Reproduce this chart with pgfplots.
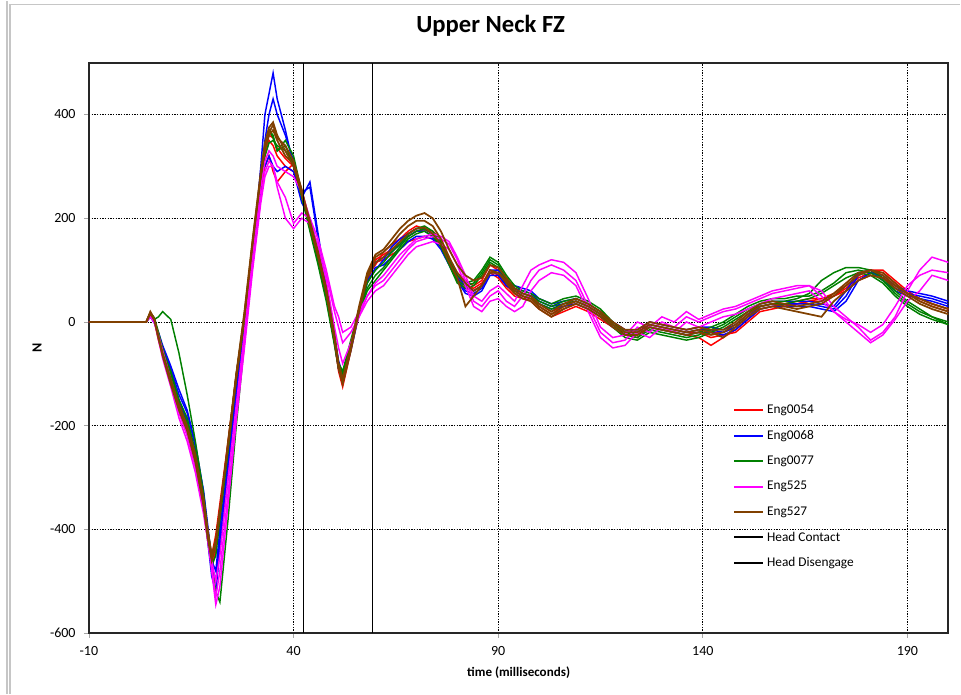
\documentclass[border=0pt]{standalone}
\usepackage{pgfplots}
\usepackage{pgfplotstable}
\pgfplotsset{compat=1.18}
\usepackage{fontspec}
\setmainfont{Carlito}
\definecolor{cred}{RGB}{255,0,0}
\definecolor{cblue}{RGB}{0,0,255}
\definecolor{cgreen}{RGB}{0,128,0}
\definecolor{cpink}{RGB}{255,0,255}
\definecolor{cbrown}{RGB}{128,64,0}

\pgfplotstableread{
t a b c
-10 0 0 0
4 0 0 0
5 15 12 18
6 3 0 5
7 -25 -35 -30
8 -55 -65 -60
10 -105 -115 -100
12 -160 -170 -155
14 -195 -210 -190
16 -250 -270 -255
18 -345 -360 -340
19 -405 -420 -400
20 -465 -475 -450
21 -430 -440 -410
22 -365 -380 -350
24 -235 -250 -230
26 -100 -120 -105
28 5 -10 10
30 145 130 150
32 265 250 275
33 320 300 330
34 350 320 360
35 340 290 355
36 320 270 335
38 300 290 315
40 290 305 300
42 245 255 250
44 185 195 190
46 125 135 120
48 55 60 50
50 -40 -30 -35
51 -95 -85 -90
52 -125 -115 -110
54 -55 -50 -45
56 20 25 15
58 85 80 90
60 120 115 110
62 130 120 135
64 140 130 150
66 150 140 160
68 165 155 175
70 175 160 185
72 178 165 180
74 170 160 175
76 150 145 160
78 115 120 125
80 80 95 85
82 65 80 70
84 60 70 65
86 70 80 75
88 100 110 95
90 90 100 85
92 70 80 65
94 55 65 50
96 50 55 45
98 40 50 45
100 25 35 30
103 10 20 15
106 20 30 25
109 30 40 35
112 20 30 25
115 5 15 10
118 -10 0 -5
121 -25 -15 -20
124 -30 -20 -25
127 -10 0 -5
130 -15 -5 -10
133 -20 -10 -15
136 -25 -15 -20
139 -30 -10 -20
142 -45 -20 -30
145 -30 -20 -25
148 -15 -10 -20
151 5 10 0
154 25 30 20
157 30 35 25
160 35 30 30
163 40 35 35
166 45 40 40
169 45 40 45
172 55 50 50
175 70 65 60
178 90 85 80
181 100 95 90
184 100 95 85
187 80 75 70
190 60 55 55
193 45 45 40
196 35 35 30
200 25 25 20
}\tblred

\pgfplotstableread{
t a b c
-10 0 0 0
4 0 0 0
5 12 15 10
6 0 2 -2
7 -25 -30 -20
8 -50 -55 -45
10 -90 -100 -85
12 -140 -150 -130
14 -175 -190 -170
16 -240 -260 -235
18 -330 -350 -325
19 -400 -420 -390
20 -470 -490 -460
21 -500 -520 -480
22 -420 -440 -400
24 -280 -300 -270
26 -140 -150 -130
28 -10 -20 0
30 120 110 135
32 300 260 290
33 400 350 300
34 440 400 320
35 480 430 300
36 430 400 290
38 370 360 300
40 300 310 290
42 240 250 230
44 270 260 200
46 170 160 140
48 70 65 60
50 -30 -40 -25
51 -80 -90 -75
52 -105 -115 -100
54 -45 -55 -40
56 25 15 20
58 85 75 80
60 115 105 100
62 125 110 120
64 135 125 145
66 150 140 160
68 165 155 170
70 175 165 180
72 175 165 180
74 165 160 170
76 145 140 150
78 115 110 120
80 85 80 90
82 60 55 70
84 55 50 60
86 65 60 70
88 95 90 100
90 95 90 100
92 75 70 80
94 65 60 70
96 60 55 65
98 55 50 60
100 40 35 45
103 30 25 35
106 35 30 40
109 40 35 45
112 30 25 35
115 15 10 20
118 -5 -10 0
121 -20 -25 -15
124 -20 -25 -15
127 -5 -10 0
130 -10 -15 -5
133 -15 -20 -10
136 -20 -25 -15
139 -15 -20 -10
142 -15 -20 -10
145 -20 -25 -15
148 -10 -15 -5
151 10 5 15
154 30 25 35
157 35 30 40
160 35 30 40
163 35 30 40
166 35 30 40
169 30 25 35
172 25 20 30
175 50 40 60
178 90 80 95
181 100 95 100
184 85 90 80
187 65 70 60
190 55 60 50
193 50 55 45
196 45 50 40
200 35 40 30
}\tblblue

\pgfplotstableread{
t a b c
-10 0 0 0
4 0 0 0
5 15 18 12
6 5 8 3
7 10 -20 -25
8 20 -50 -55
10 5 -100 -95
12 -60 -160 -150
14 -140 -195 -185
16 -230 -260 -250
18 -330 -350 -340
19 -400 -410 -400
20 -460 -470 -450
21 -520 -450 -430
22 -540 -380 -370
24 -380 -250 -240
26 -200 -110 -100
28 -40 0 10
30 120 150 145
32 270 280 270
33 330 345 320
34 370 370 345
35 360 355 350
36 330 330 340
38 340 350 330
40 300 320 305
42 245 250 240
44 180 185 175
46 115 120 110
48 45 50 40
50 -40 -35 -45
51 -85 -80 -90
52 -100 -95 -105
54 -40 -35 -45
56 20 25 15
58 65 75 60
60 90 100 80
62 105 115 100
64 125 135 120
66 145 150 140
68 165 170 160
70 175 180 170
72 180 185 175
74 170 175 165
76 150 155 145
78 115 120 110
80 80 90 75
82 70 75 65
84 75 80 70
86 95 100 90
88 120 125 115
90 110 115 105
92 85 90 80
94 65 70 60
96 55 60 50
98 50 55 45
100 40 45 35
103 30 35 25
106 40 45 35
109 45 50 40
112 35 40 30
115 20 25 15
118 -5 0 -10
121 -25 -20 -30
124 -30 -25 -35
127 -15 -10 -20
130 -20 -15 -25
133 -25 -20 -30
136 -30 -25 -35
139 -25 -20 -30
142 -15 -10 -20
145 -5 0 -10
148 10 15 5
151 25 30 20
154 35 40 30
157 40 45 35
160 40 45 35
163 45 50 40
166 55 50 45
169 80 60 55
172 95 75 70
175 105 95 85
178 105 100 95
181 100 95 90
184 85 80 75
187 60 55 50
190 40 35 30
193 25 20 15
196 10 10 5
200 -5 0 -5
}\tblgreen

\pgfplotstableread{
t a b c
-10 0 0 0
4 0 0 0
5 12 15 10
6 0 3 -2
7 -30 -35 -25
8 -60 -70 -55
10 -115 -125 -110
12 -175 -185 -165
14 -220 -230 -210
16 -280 -290 -270
18 -360 -370 -350
19 -410 -420 -400
20 -470 -480 -460
21 -530 -545 -500
22 -480 -510 -450
24 -330 -350 -300
26 -180 -190 -160
28 -40 -50 -20
30 110 100 130
32 240 230 260
33 290 280 310
34 310 300 330
35 300 300 320
36 270 260 300
38 240 200 290
40 190 180 280
42 210 200 250
44 200 190 200
46 160 150 140
48 100 90 80
50 30 20 -10
51 10 -10 -50
52 -20 -40 -80
54 -10 -20 -40
56 20 10 10
58 50 40 50
60 70 60 75
62 80 70 90
64 100 90 110
66 120 110 130
68 140 130 145
70 155 145 160
72 160 150 165
74 165 155 170
76 160 150 165
78 150 140 155
80 120 110 125
82 80 70 90
84 40 30 50
86 30 20 40
88 50 40 60
90 60 45 70
92 40 30 55
94 30 20 40
96 50 30 70
98 80 60 100
100 100 80 110
103 110 95 120
106 100 90 115
109 80 70 95
112 30 20 45
115 -20 -30 -10
118 -40 -50 -30
121 -35 -45 -25
124 -10 -20 0
127 -20 -30 -10
130 0 -10 10
133 -10 -20 0
136 10 0 20
139 0 -10 5
142 10 0 15
145 20 10 25
148 25 15 30
151 35 25 40
154 45 35 50
157 55 45 60
160 60 50 65
163 65 55 70
166 70 60 70
169 60 40 50
172 30 20 20
175 10 0 5
178 -10 -20 -5
181 -35 -40 -20
184 -20 -25 -5
187 10 5 30
190 60 40 70
193 100 60 90
196 125 90 100
200 115 80 95
}\tblpink

\pgfplotstableread{
t a b c
-10 0 0 0
4 0 0 0
5 18 16 20
6 5 3 6
7 -30 -28 -32
8 -65 -60 -62
10 -120 -110 -115
12 -170 -160 -165
14 -210 -200 -205
16 -270 -255 -265
18 -355 -340 -350
19 -415 -400 -410
20 -460 -450 -455
21 -430 -420 -425
22 -370 -360 -365
24 -230 -240 -235
26 -100 -110 -105
28 20 10 15
30 160 150 155
32 290 280 285
33 345 330 335
34 375 360 365
35 385 370 380
36 360 350 355
38 330 320 340
40 300 305 310
42 245 250 255
44 190 195 185
46 130 135 125
48 60 65 55
50 -30 -25 -35
51 -85 -80 -90
52 -115 -110 -120
54 -50 -45 -55
56 25 30 20
58 90 95 85
60 125 130 115
62 135 140 125
64 150 160 140
66 170 180 155
68 185 195 170
70 195 205 180
72 195 210 182
74 185 200 170
76 160 175 150
78 125 140 115
80 95 110 85
82 75 90 30
84 60 80 50
86 70 85 70
88 95 110 100
90 95 105 95
92 75 85 80
94 55 65 60
96 45 55 50
98 40 50 45
100 25 35 30
103 10 20 15
106 25 35 30
109 35 45 40
112 25 35 30
115 10 20 15
118 -10 0 -5
121 -25 -15 -20
124 -25 -15 -20
127 -10 0 -5
130 -15 -5 -10
133 -20 -10 -15
136 -25 -15 -20
139 -20 -10 -15
142 -25 -15 -20
145 -20 -15 -30
148 -5 0 -10
151 15 20 10
154 30 35 25
157 35 40 30
160 30 35 25
163 25 30 20
166 30 35 15
169 35 40 10
172 50 55 40
175 70 75 60
178 90 95 80
181 100 100 90
184 95 90 85
187 75 70 65
190 55 55 50
193 40 45 35
196 30 35 25
200 20 25 15
}\tblbrown

\begin{document}
\begin{tikzpicture}
\begin{axis}[
  scale only axis,
  width=645pt, height=428.25pt,
  xmin=-10, xmax=200, ymin=-600, ymax=500,
  xtick={-10,40,90,140,190},
  ytick={-600,-400,-200,0,200,400},
  /pgf/number format/assume math mode=true,
  ticklabel style={font=\fontsize{10.5}{12}\selectfont},
  yticklabel style={xshift=-3pt},
  xticklabel style={yshift=-3pt},
  tick pos=left, tick align=outside,
  major tick length=3.5pt,
  tick style={gray!70, line width=0.6pt},
  axis line style={line width=1.4pt, black!85},
  grid=major,
  major grid style={black, line width=0.6pt, dash pattern=on 1pt off 1pt},
  title={Upper Neck FZ},
  title style={font=\fontsize{18.5}{22}\selectfont\bfseries, at={(0.5,1)}, anchor=center, yshift=21.75pt, xshift=-21pt},
  xlabel={time (milliseconds)},
  xlabel style={font=\fontsize{9.8}{12}\selectfont\bfseries, at={(0.5,0)}, anchor=center, yshift=-29.25pt},
  ylabel={N},
  ylabel style={font=\fontsize{10.5}{12}\selectfont\bfseries, at={(0,0.5)}, anchor=center, yshift=39pt},
  legend style={at={(0.745,0.41)}, anchor=north west, draw=none, fill=none,
    font=\fontsize{10}{12}\selectfont, row sep=7pt,
    legend cell align=left},
  legend image code/.code={\draw[#1, line width=1.5pt, line cap=butt] (0pt,0pt) -- (21.75pt,0pt);},
]
\addplot[cred, line width=1.1pt] table[x=t,y=a]{\tblred}; \addlegendentry{Eng0054}
\addplot[cred, line width=1.1pt,forget plot] table[x=t,y=b]{\tblred};
\addplot[cred, line width=1.1pt,forget plot] table[x=t,y=c]{\tblred};
\addplot[cblue, line width=1.1pt] table[x=t,y=a]{\tblblue}; \addlegendentry{Eng0068}
\addplot[cblue, line width=1.1pt,forget plot] table[x=t,y=b]{\tblblue};
\addplot[cblue, line width=1.1pt,forget plot] table[x=t,y=c]{\tblblue};
\addplot[cgreen, line width=1.1pt] table[x=t,y=a]{\tblgreen}; \addlegendentry{Eng0077}
\addplot[cgreen, line width=1.1pt,forget plot] table[x=t,y=b]{\tblgreen};
\addplot[cgreen, line width=1.1pt,forget plot] table[x=t,y=c]{\tblgreen};
\addplot[cpink, line width=1.1pt] table[x=t,y=a]{\tblpink}; \addlegendentry{Eng525}
\addplot[cpink, line width=1.1pt,forget plot] table[x=t,y=b]{\tblpink};
\addplot[cpink, line width=1.1pt,forget plot] table[x=t,y=c]{\tblpink};
\addplot[cbrown, line width=1.3pt] table[x=t,y=a]{\tblbrown}; \addlegendentry{Eng527}
\addplot[cbrown, line width=1.3pt,forget plot] table[x=t,y=b]{\tblbrown};
\addplot[cbrown, line width=1.3pt,forget plot] table[x=t,y=c]{\tblbrown};
\addplot[black, line width=1.3pt] coordinates {(42.4,-600) (42.4,500)}; \addlegendentry{Head Contact}
\addplot[black, line width=1.3pt] coordinates {(59.3,-600) (59.3,500)}; \addlegendentry{Head Disengage}
\end{axis}
\draw[gray!45, line width=1pt] ([xshift=-61.5pt,yshift=-45.75pt]current axis.south west) -- ([xshift=-61.5pt,yshift=46.5pt]current axis.north west);
\draw[gray!45, line width=1pt] ([xshift=-59.25pt,yshift=-45.75pt]current axis.south west) -- ([xshift=-59.25pt,yshift=43.5pt]current axis.north west) -- ([xshift=9pt,yshift=43.5pt]current axis.north east);
\path[use as bounding box] ([xshift=-66.75pt,yshift=-45.75pt]current axis.south west) rectangle ([xshift=9pt,yshift=46.5pt]current axis.north east);
\end{tikzpicture}
\end{document}
